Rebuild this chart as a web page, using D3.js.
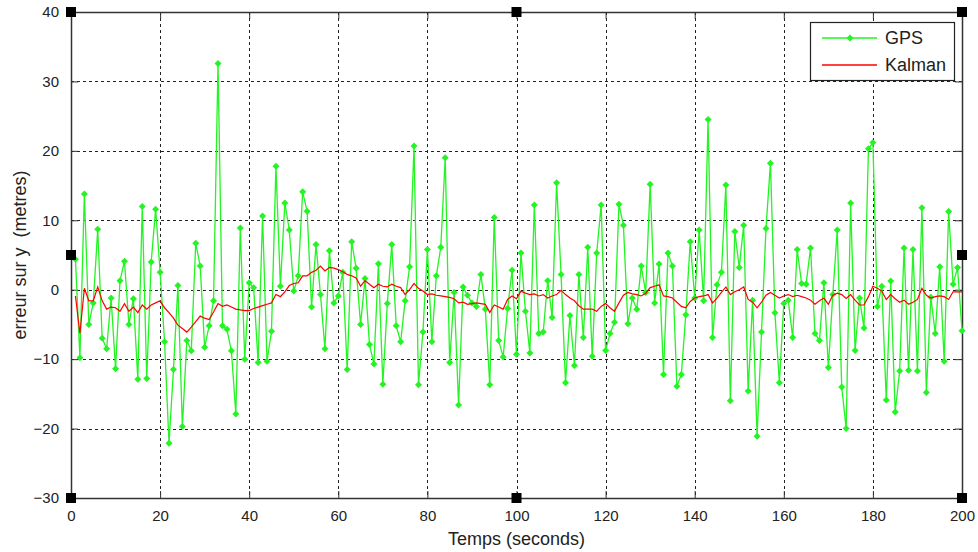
<!DOCTYPE html>
<html>
<head>
<meta charset="utf-8">
<script src="https://cdn.jsdelivr.net/npm/d3@7"></script>
<style>
  body { margin: 0; background: #fff; }
  svg { display: block; font-family: "Liberation Sans", Arial, sans-serif; }
</style>
</head>
<body>
<div id="viz"></div>
<script>
// GPS error samples, one per second (t = 1..200)
const gpsErr = [
  4.4, -9.8, 13.8, -5.0, -1.9, 8.7, -7.0, -8.5, -1.2, -11.4,
  1.3, 4.1, -5.0, -1.3, -12.9, 12.0, -12.8, 4.0, 11.6, 2.5,
  -7.5, -22.1, -11.5, 0.6, -19.7, -7.3, -8.8, 6.7, 3.4, -8.3,
  -5.2, -1.6, 32.6, -5.2, -5.7, -8.8, -17.9, 8.9, -10.0, 1.0,
  0.3, -10.5, 10.6, -10.3, -6.0, 17.8, 0.5, 12.5, 8.6, -0.2,
  2.0, 14.1, 11.3, -2.5, 6.5, -0.7, -8.5, 5.6, -1.9, -0.9,
  2.5, -11.5, 6.9, 3.1, -5.0, 1.6, -7.9, -10.7, 3.75, -13.6,
  -2.0, 6.5, -5.2, -7.5, -1.6, 3.3, 20.7, -13.7, -6.1, 5.8,
  -7.5, 2.0, 6.1, 19.0, -10.5, -0.4, -16.6, 0.4, -0.8, -1.9,
  -2.4, 2.2, -2.8, -13.7, 10.4, -7.3, -9.7, -2.7, 2.8, -9.3,
  5.3, -3.1, -9.1, 12.2, -6.3, -6.1, 1.3, -4.0, 15.4, 2.2,
  -13.4, -3.7, -10.9, 2.2, -6.9, 6.1, -9.6, 5.3, 12.2, -8.75,
  -6.3, -4.7, 12.3, 9.3, -4.9, -1.2, -2.8, 3.4, -0.4, 15.2,
  -1.9, 3.7, -12.2, 5.3, 3.4, -13.9, -12.2, -3.6, 6.9, -1.2,
  8.6, -1.6, 24.5, -6.9, 0.7, 2.5, 15.1, -16.0, 8.4, 3.2,
  9.3, -14.6, -1.5, -21.1, -6.1, 8.8, 18.2, -3.3, -13.4, -2.0,
  -1.5, -6.9, 5.8, 0.9, 0.8, 6.0, -6.3, -7.3, 1.0, -11.2,
  -0.7, 8.6, -14.0, -20.0, 12.5, -8.75, -1.2, -5.5, 20.3, 21.2,
  -2.4, 0.5, -15.9, 1.25, -17.6, -11.7, 6.0, -11.6, 5.8, -11.7,
  11.8, -14.8, -1.1, -6.3, 3.3, -10.3, 11.25, 0.8, 3.2, -5.9
];

// Kalman filtered error, same time base
const kalmanErr = [
  -0.9, -6.3, 0.2, -1.6, -1.6, 0.4, -1.6, -2.8, -2.5, -2.6,
  -3.1, -2.0, -3.1, -2.5, -3.3, -2.2, -2.8, -2.2, -1.9, -1.6,
  -2.6, -3.3, -4.1, -5.1, -5.6, -6.1, -5.4, -4.6, -3.8, -4.1,
  -4.3, -3.2, -2.0, -2.4, -2.2, -2.5, -2.8, -2.9, -3.0, -3.0,
  -2.7, -2.5, -2.3, -2.1, -1.9, -0.7, -1.0, -0.3, 0.6, 0.9,
  1.0, 2.0, 2.0, 2.5, 2.8, 3.4, 2.7, 3.2, 3.1, 2.9,
  2.6, 2.2, 2.0, 1.7, 0.5, 1.3, 0.8, 0.3, 0.8, 0.5,
  0.4, 0.8, 0.5, 0.3, -0.7, 0.0, 0.9, 0.2, -0.2, -0.7,
  -0.6, -0.8, -0.9, -1.0, -1.1, -1.3, -1.9, -1.8, -2.1, -2.0,
  -1.9, -2.0, -2.1, -3.3, -2.2, -2.5, -2.8, -1.4, -0.9, -1.3,
  -0.2, -0.5, -0.7, -0.6, -0.9, -0.7, -1.2, -0.9, -0.7, -0.1,
  -0.7, -1.2, -1.6, -2.3, -2.8, -2.8, -2.8, -3.1, -2.4, -2.0,
  -2.6, -3.1, -1.9, -0.8, -0.4, -0.6, -0.7, -0.9, -0.5, 0.3,
  0.5, 0.7, -0.9, -1.0, -1.2, -1.8, -2.4, -2.6, -1.7, -1.2,
  -1.0, -0.9, -0.7, -1.9, -1.2, -0.4, 0.4, -0.7, -0.3, 0.0,
  0.4, -1.4, -1.8, -2.6, -1.8, -0.8, -0.4, -0.8, -1.2, -0.9,
  -0.7, -1.0, -0.8, -1.0, -1.2, -1.5, -2.1, -1.6, -1.2, -2.1,
  -0.8, -0.5, -0.7, -1.25, -0.7, -1.5, -2.2, -2.2, -1.0, 0.5,
  0.2, -0.2, -1.4, -0.7, -1.3, -1.8, -1.5, -2.1, -1.8, -1.4,
  0.2, -0.8, -1.2, -1.0, -0.9, -1.0, -1.4, -0.3, -0.3, -0.3
];

const xTicks = [0, 20, 40, 60, 80, 100, 120, 140, 160, 180, 200];
const yTicks = [-30, -20, -10, 0, 10, 20, 30, 40];
const seriesNames = ['GPS', 'Kalman'];

const width = 978;
const height = 552;
const GREEN = '#22f522';
const RED = '#ff0000';

const x = d3.scaleLinear().domain([0, 200]).range([71, 962]);
const y = d3.scaleLinear().domain([-30, 40]).range([498, 12]);

const svg = d3.select('#viz')
  .append('svg')
  .attr('width', width)
  .attr('height', height);

const [x0, x1] = x.range();
const [y0, y1] = y.range();

// grid
const grid = svg.append('g').attr('stroke', '#222').attr('stroke-dasharray', '3,3').attr('stroke-width', 1);
grid.selectAll('.gx')
  .data(xTicks.filter(d => d > 0 && d < 200))
  .enter().append('line')
  .attr('x1', d => Math.round(x(d)) + 0.5).attr('x2', d => Math.round(x(d)) + 0.5)
  .attr('y1', y1).attr('y2', y0);
grid.selectAll('.gy')
  .data(yTicks.filter(d => d > -30 && d < 40))
  .enter().append('line')
  .attr('y1', d => Math.round(y(d)) + 0.5).attr('y2', d => Math.round(y(d)) + 0.5)
  .attr('x1', x0).attr('x2', x1);

// axes (ticks inward, box on)
const axisB = d3.axisBottom(x).tickValues(xTicks).tickSizeInner(-7).tickSizeOuter(0).tickPadding(12);
const axisT = d3.axisTop(x).tickValues(xTicks).tickSizeInner(-7).tickSizeOuter(0).tickFormat('');
const axisL = d3.axisLeft(y).tickValues(yTicks).tickSizeInner(-7).tickSizeOuter(0).tickPadding(12);
const axisR = d3.axisRight(y).tickValues(yTicks).tickSizeInner(-7).tickSizeOuter(0).tickFormat('');

function styleAxis(g) {
  g.select('.domain').attr('stroke', '#333').attr('stroke-width', 1.5);
  g.selectAll('.tick line').attr('stroke', '#333');
  g.selectAll('.tick text').attr('fill', '#222').style('font-size', '15px')
    .style('font-family', '"Liberation Sans", Arial, sans-serif');
}

svg.append('g').attr('transform', `translate(0,${y0})`).call(axisB).call(styleAxis);
svg.append('g').attr('transform', `translate(0,${y1})`).call(axisT).call(styleAxis);
svg.append('g').attr('transform', `translate(${x0},0)`).call(axisL).call(styleAxis);
svg.append('g').attr('transform', `translate(${x1},0)`).call(axisR).call(styleAxis);

// series
const gpsPts = gpsErr.map((v, i) => [i + 1, v]);
const kalPts = kalmanErr.map((v, i) => [i + 1, v]);
const line = d3.line().x(d => x(d[0])).y(d => y(d[1]));

svg.append('path')
  .datum(gpsPts)
  .attr('d', line)
  .attr('fill', 'none')
  .attr('stroke', GREEN)
  .attr('stroke-width', 1.3);

const diamond = 'M0,-3.5L3.5,0L0,3.5L-3.5,0Z';
svg.append('g').selectAll('path')
  .data(gpsPts)
  .enter().append('path')
  .attr('d', diamond)
  .attr('transform', d => `translate(${x(d[0])},${y(d[1])})`)
  .attr('fill', GREEN);

svg.append('path')
  .datum(kalPts)
  .attr('d', line)
  .attr('fill', 'none')
  .attr('stroke', RED)
  .attr('stroke-width', 1.2);

// legend
const lg = svg.append('g');
lg.append('rect')
  .attr('x', 810.5).attr('y', 22.5).attr('width', 144).attr('height', 58)
  .attr('fill', '#fff').attr('stroke', '#222').attr('stroke-width', 1.2);
const legendColors = [GREEN, RED];
seriesNames.forEach((name, i) => {
  const ly = 38 + i * 27;
  lg.append('line')
    .attr('x1', 822).attr('x2', 877).attr('y1', ly).attr('y2', ly)
    .attr('stroke', legendColors[i]).attr('stroke-width', 1.3);
  if (i === 0) {
    lg.append('path').attr('d', diamond).attr('transform', `translate(850,${ly})`).attr('fill', GREEN);
  }
  lg.append('text')
    .attr('x', 885).attr('y', ly + 6)
    .style('font-size', '18px').attr('fill', '#222')
    .text(name);
});

// axis labels
svg.append('text')
  .attr('x', (x0 + x1) / 2).attr('y', 545)
  .attr('text-anchor', 'middle')
  .style('font-size', '18px').attr('fill', '#222')
  .text('Temps (seconds)');

svg.append('text')
  .attr('transform', `translate(26,${(y0 + y1) / 2}) rotate(-90)`)
  .attr('text-anchor', 'middle')
  .style('font-size', '18px').style('white-space', 'pre').attr('fill', '#222')
  .text('erreur sur y  (metres)');

// selection handles
const handles = [
  [x0, y1], [(x0 + x1) / 2, y1], [x1, y1],
  [x0, (y0 + y1) / 2], [x1, (y0 + y1) / 2],
  [x0, y0], [(x0 + x1) / 2, y0], [x1, y0]
];
svg.append('g').selectAll('rect')
  .data(handles)
  .enter().append('rect')
  .attr('x', d => d[0] - 5).attr('y', d => d[1] - 5)
  .attr('width', 10).attr('height', 10)
  .attr('fill', '#000');
</script>
</body>
</html>
